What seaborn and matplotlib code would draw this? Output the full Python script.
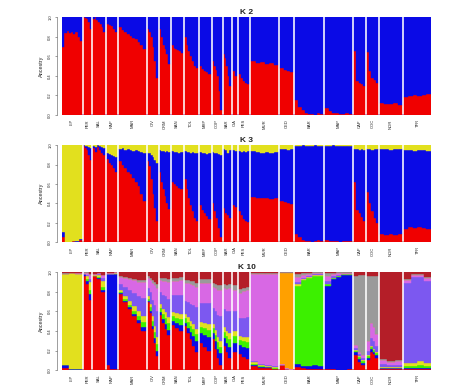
import numpy as np
import pandas as pd
import matplotlib
matplotlib.use('Agg')
import matplotlib.pyplot as plt
import seaborn as sns

# ── Populations ───────────────────────────────────────────────────────────────
pops  = ['LIP', 'PER', 'SAL', 'NAP', 'MAR', 'CIV', 'CRM', 'SAN', 'TOL', 'MRP', 'COP',
         'SAR', 'CIA', 'PES', 'MUR', 'CED', 'BAR', 'MAP', 'CAP', 'COC', 'NOR', 'TFR']
n_ind = [20, 7, 12, 10, 27, 10, 10, 11, 13, 11, 9, 7, 4, 11, 27, 13, 28, 27, 11, 11, 22, 27]
GAP = 2

# ── K 2 : red ancestry (blue = rest) ──────────────────────────────────────────
k2_red = [
    [0.70, 0.84, 0.86, 0.84, 0.85, 0.83, 0.85, 0.80, 0.76],
    [1.00, 0.99, 0.98, 0.95, 0.88],
    [0.98, 1.00, 0.97, 0.95, 0.93, 0.90, 0.85],
    [0.93, 0.92, 0.91, 0.88, 0.85],
    [0.90, 0.87, 0.85, 0.83, 0.81, 0.79, 0.78, 0.75, 0.72, 0.67],
    [0.88, 0.85, 0.80, 0.70, 0.55, 0.38],
    [0.88, 0.80, 0.72, 0.67, 0.62, 0.52],
    [0.72, 0.68, 0.67, 0.66, 0.65, 0.63],
    [0.80, 0.72, 0.65, 0.60, 0.55, 0.50, 0.48],
    [0.50, 0.47, 0.45, 0.44, 0.42],
    [0.55, 0.50, 0.46, 0.40, 0.25, 0.05],
    [0.62, 0.58, 0.50, 0.40, 0.30],
    [0.45, 0.40],
    [0.42, 0.38, 0.35, 0.33, 0.32],
    [0.55, 0.53, 0.54, 0.52, 0.53, 0.51],
    [0.48, 0.46, 0.45, 0.44],
    [0.15, 0.08, 0.05, 0.02, 0.01, 0.01, 0.00, 0.02, 0.01],
    [0.07, 0.04, 0.02, 0.02, 0.01, 0.01, 0.02, 0.01],
    [0.65, 0.35, 0.33, 0.32, 0.30],
    [0.64, 0.45, 0.38, 0.36, 0.33],
    [0.12, 0.11, 0.11, 0.12, 0.10],
    [0.18, 0.19, 0.20, 0.19, 0.20, 0.21],
]

# ── K 3 : red + yellow (blue = rest) ──────────────────────────────────────────
k3_red = [
    [0.05, 0.00, 0.00, 0.01, 0.00, 0.02],
    [0.99, 0.97, 0.95, 0.90, 0.85],
    [0.97, 0.93, 0.98, 0.95, 0.92, 0.90],
    [0.86, 0.82, 0.80, 0.76, 0.72],
    [0.84, 0.80, 0.76, 0.72, 0.70, 0.66, 0.62, 0.58, 0.50, 0.42],
    [0.84, 0.78, 0.65, 0.50, 0.35, 0.22],
    [0.72, 0.62, 0.55, 0.48, 0.40, 0.34],
    [0.62, 0.60, 0.58, 0.56, 0.55],
    [0.65, 0.55, 0.45, 0.38, 0.32, 0.25, 0.22],
    [0.38, 0.33, 0.30, 0.27, 0.24],
    [0.40, 0.32, 0.25, 0.15, 0.05],
    [0.35, 0.30, 0.28, 0.25],
    [0.38, 0.36],
    [0.32, 0.28, 0.24, 0.22, 0.21],
    [0.47, 0.46, 0.45, 0.46, 0.44, 0.45],
    [0.42, 0.41, 0.40, 0.39],
    [0.08, 0.05, 0.02, 0.01, 0.01, 0.00, 0.01, 0.02, 0.01],
    [0.02, 0.01, 0.01, 0.01, 0.00, 0.01, 0.01, 0.01],
    [0.62, 0.33, 0.30, 0.26, 0.22],
    [0.52, 0.40, 0.32, 0.25, 0.20],
    [0.08, 0.07, 0.08, 0.07, 0.08],
    [0.14, 0.16, 0.15, 0.16, 0.15, 0.14],
]
k3_yellow = [
    [0.90, 1.00, 1.00, 0.99, 0.99, 0.97],
    [0.00, 0.01, 0.01, 0.02, 0.03],
    [0.01, 0.02, 0.00, 0.01, 0.02, 0.03],
    [0.08, 0.09, 0.10, 0.11, 0.12],
    [0.04, 0.03, 0.05, 0.04, 0.05, 0.06, 0.05, 0.06, 0.07, 0.08],
    [0.08, 0.08, 0.10, 0.12, 0.15, 0.18],
    [0.05, 0.06, 0.06, 0.07, 0.06, 0.07],
    [0.06, 0.07, 0.07, 0.08, 0.07],
    [0.06, 0.07, 0.07, 0.08, 0.07, 0.08, 0.08],
    [0.07, 0.08, 0.08, 0.09, 0.08],
    [0.07, 0.08, 0.08, 0.09, 0.10],
    [0.04, 0.05, 0.08, 0.05],
    [0.05, 0.06],
    [0.06, 0.07, 0.06, 0.07, 0.06],
    [0.06, 0.07, 0.08, 0.07, 0.08, 0.07],
    [0.04, 0.04, 0.05, 0.04],
    [0.01, 0.01, 0.00, 0.01, 0.01, 0.01, 0.00, 0.01, 0.01],
    [0.01, 0.01, 0.00, 0.01, 0.01, 0.01, 0.01, 0.01],
    [0.04, 0.04, 0.05, 0.04, 0.05],
    [0.04, 0.04, 0.05, 0.04, 0.04],
    [0.04, 0.04, 0.05, 0.04, 0.04],
    [0.05, 0.05, 0.06, 0.05, 0.05, 0.06],
]

# ── K 10 (dark red = rest) ────────────────────────────────────────────────────
k10_red = [
    [0.02, 0.00, 0.00], [0.96, 0.88, 0.72], [0.96, 0.93, 0.80], [0.05, 0.01, 0.01],
    [0.78, 0.70, 0.62, 0.55, 0.48, 0.40], [0.70, 0.58, 0.42, 0.28, 0.14],
    [0.56, 0.48, 0.42, 0.36], [0.46, 0.43, 0.40], [0.45, 0.38, 0.32, 0.25, 0.18],
    [0.28, 0.24, 0.20], [0.32, 0.22, 0.12, 0.05], [0.25, 0.18, 0.12], [0.18],
    [0.16, 0.13, 0.11], [0.04, 0.02, 0.02, 0.01], [0.05, 0.01, 0.00],
    [0.03, 0.02, 0.01, 0.01, 0.01], [0.01, 0.01, 0.00, 0.00, 0.01],
    [0.15, 0.08, 0.05], [0.10, 0.18, 0.16, 0.12], [0.01, 0.01, 0.01],
    [0.01, 0.01, 0.01, 0.01],
]
k10_blue = [
    [0.03, 0.01, 0.01], [0.02, 0.03, 0.06], [0.00, 0.01, 0.02], [0.93, 0.97, 0.97],
    [0.01, 0.01, 0.02, 0.02, 0.03, 0.04], [0.01, 0.02, 0.03, 0.05, 0.06],
    [0.03, 0.04, 0.05, 0.05], [0.04, 0.05, 0.06], [0.03, 0.05, 0.07, 0.10, 0.12],
    [0.10, 0.12, 0.14], [0.06, 0.08, 0.10, 0.12], [0.08, 0.10, 0.12], [0.10],
    [0.10, 0.11, 0.12], [0.01, 0.01, 0.01, 0.00], [0.00, 0.00, 0.00],
    [0.03, 0.02, 0.03, 0.04, 0.03], [0.85, 0.92, 0.95, 0.97, 0.96],
    [0.03, 0.03, 0.02], [0.02, 0.04, 0.03, 0.03], [0.01, 0.01, 0.01],
    [0.01, 0.01, 0.01, 0.01],
]
k10_green = [
    [0.00, 0.00, 0.00], [0.00, 0.02, 0.04], [0.00, 0.01, 0.03], [0.00, 0.00, 0.00],
    [0.01, 0.02, 0.03, 0.03, 0.04, 0.05], [0.02, 0.04, 0.05, 0.06, 0.07],
    [0.04, 0.05, 0.06, 0.07], [0.05, 0.05, 0.06], [0.05, 0.06, 0.06, 0.07, 0.07],
    [0.06, 0.07, 0.07], [0.05, 0.06, 0.07, 0.07], [0.06, 0.07, 0.08], [0.07],
    [0.05, 0.06, 0.06], [0.01, 0.01, 0.00, 0.01], [0.00, 0.00, 0.00],
    [0.80, 0.88, 0.90, 0.91, 0.92], [0.02, 0.01, 0.01, 0.01, 0.01],
    [0.02, 0.02, 0.02], [0.02, 0.02, 0.02, 0.02], [0.00, 0.00, 0.00],
    [0.02, 0.02, 0.03, 0.02],
]
k10_yellow = [
    [0.93, 0.98, 0.97], [0.00, 0.03, 0.08], [0.01, 0.02, 0.06], [0.00, 0.00, 0.01],
    [0.02, 0.03, 0.04, 0.05, 0.05, 0.06], [0.03, 0.04, 0.05, 0.06, 0.07],
    [0.05, 0.05, 0.06, 0.06], [0.04, 0.05, 0.05], [0.04, 0.05, 0.05, 0.05, 0.05],
    [0.05, 0.05, 0.06], [0.04, 0.05, 0.05, 0.06], [0.05, 0.05, 0.06], [0.05],
    [0.04, 0.04, 0.05], [0.02, 0.01, 0.01, 0.01], [0.00, 0.00, 0.00],
    [0.02, 0.01, 0.01, 0.01, 0.01], [0.00, 0.00, 0.00, 0.00, 0.00],
    [0.01, 0.01, 0.01], [0.01, 0.01, 0.01, 0.01], [0.01, 0.01, 0.01],
    [0.03, 0.03, 0.04, 0.03],
]
k10_purple = [
    [0.00, 0.00, 0.00], [0.00, 0.01, 0.03], [0.00, 0.01, 0.03], [0.00, 0.00, 0.00],
    [0.06, 0.09, 0.11, 0.14, 0.16, 0.19], [0.08, 0.12, 0.17, 0.22, 0.26],
    [0.12, 0.15, 0.17, 0.19], [0.18, 0.19, 0.20], [0.14, 0.16, 0.18, 0.20, 0.22],
    [0.20, 0.21, 0.22], [0.16, 0.19, 0.22, 0.25], [0.18, 0.20, 0.22], [0.20],
    [0.18, 0.19, 0.20], [0.01, 0.01, 0.01, 0.01], [0.00, 0.00, 0.00],
    [0.02, 0.01, 0.01, 0.01, 0.01], [0.03, 0.02, 0.01, 0.00, 0.00],
    [0.02, 0.02, 0.02], [0.05, 0.08, 0.08, 0.07], [0.03, 0.02, 0.02],
    [0.82, 0.88, 0.86, 0.84],
]
k10_violet = [
    [0.00, 0.00, 0.01], [0.01, 0.02, 0.04], [0.01, 0.01, 0.03], [0.01, 0.01, 0.01],
    [0.07, 0.09, 0.11, 0.13, 0.14, 0.16], [0.10, 0.12, 0.17, 0.20, 0.24],
    [0.12, 0.14, 0.15, 0.17], [0.14, 0.14, 0.15], [0.18, 0.19, 0.20, 0.20, 0.21],
    [0.20, 0.20, 0.20], [0.22, 0.24, 0.26, 0.27], [0.22, 0.23, 0.24], [0.22],
    [0.26, 0.28, 0.28], [0.89, 0.92, 0.93, 0.94], [0.01, 0.01, 0.01],
    [0.05, 0.03, 0.02, 0.01, 0.01], [0.05, 0.02, 0.02, 0.01, 0.01],
    [0.03, 0.03, 0.03], [0.10, 0.15, 0.14, 0.12], [0.04, 0.03, 0.04],
    [0.03, 0.02, 0.02, 0.03],
]
k10_orange = [
    [0.00, 0.00, 0.00], [0.00, 0.00, 0.00], [0.00, 0.00, 0.00], [0.00, 0.00, 0.00],
    [0.00, 0.00, 0.00, 0.00, 0.00, 0.00], [0.00, 0.00, 0.00, 0.00, 0.00],
    [0.00, 0.00, 0.00, 0.00], [0.00, 0.00, 0.00], [0.00, 0.00, 0.00, 0.00, 0.00],
    [0.00, 0.00, 0.00], [0.00, 0.00, 0.00, 0.00], [0.00, 0.00, 0.00], [0.00],
    [0.00, 0.00, 0.00], [0.00, 0.00, 0.00, 0.00], [0.93, 0.97, 0.98],
    [0.00, 0.00, 0.00, 0.00, 0.00], [0.00, 0.00, 0.00, 0.00, 0.00],
    [0.00, 0.00, 0.00], [0.00, 0.00, 0.00, 0.00], [0.00, 0.00, 0.00],
    [0.00, 0.00, 0.00, 0.00],
]
k10_gray = [
    [0.01, 0.00, 0.00], [0.01, 0.01, 0.01], [0.00, 0.00, 0.00], [0.00, 0.00, 0.00],
    [0.01, 0.01, 0.01, 0.01, 0.02, 0.02], [0.02, 0.02, 0.03, 0.03, 0.04],
    [0.02, 0.03, 0.03, 0.03], [0.03, 0.03, 0.03], [0.03, 0.03, 0.03, 0.04, 0.04],
    [0.04, 0.04, 0.04], [0.04, 0.04, 0.05, 0.05], [0.04, 0.04, 0.04], [0.05],
    [0.04, 0.03, 0.03], [0.01, 0.01, 0.01, 0.01], [0.01, 0.01, 0.01],
    [0.03, 0.02, 0.01, 0.01, 0.01], [0.03, 0.01, 0.01, 0.01, 0.01],
    [0.70, 0.78, 0.82], [0.66, 0.48, 0.52, 0.59], [0.01, 0.01, 0.01],
    [0.01, 0.01, 0.01, 0.01],
]

COLORS = {
    'red': '#f00000', 'blue': '#0a0ae6', 'yellow': '#e2e01e', 'green': '#3cf000',
    'purple': '#7c58f0', 'violet': '#d868e4', 'orange': '#ffa000', 'gray': '#9a9a9a',
    'darkred': '#b41e28',
}


# ── Table builder ─────────────────────────────────────────────────────────────
def build_panel(series):
    """series: bottom->top list of (cluster, per-pop lists); one entry with
    None takes whatever remains up to 1."""
    given = [v for _, v in series if v is not None]
    rows, edges, centers = [], [], []
    start = 0.0
    for i, n in enumerate(n_ind):
        m = len(given[0][i])
        w = n / m
        edges.extend(start + w * np.arange(m + 1))
        centers.append(start + n / 2)
        rest = 1 - np.sum([np.array(v[i], dtype=float) for v in given], axis=0)
        rest = np.clip(rest, 0, None)
        for name, vals in series:
            v = rest if vals is None else np.array(vals[i], dtype=float)
            for j in range(m):
                rows.append({'x': start + w * (j + 0.5), 'q': v[j], 'cluster': name})
        start += n + GAP
    order = [s[0] for s in series]
    return pd.DataFrame(rows), list(np.unique(np.round(edges, 6))), centers, order


def draw_panel(ax, series, title):
    df, edges, centers, order = build_panel(series)
    sns.histplot(data=df, x='x', weights='q', hue='cluster',
                 hue_order=order[::-1], palette=COLORS, bins=edges,
                 multiple='stack', element='bars', fill=True, alpha=1,
                 linewidth=0.3, legend=False, ax=ax)
    # thin edge in the face colour hides the seams between bars
    for p in ax.patches:
        p.set_edgecolor(p.get_facecolor())
    # despine first: moving the spine resets the tick formatting
    sns.despine(ax=ax, bottom=True, offset=4)
    ax.spines['left'].set_linewidth(0.4)
    ax.spines['left'].set_color('#555555')
    ax.set_xlim(0, sum(n_ind) + GAP * (len(n_ind) - 1))
    ax.set_ylim(0, 1)
    ax.set_xticks(centers)
    ax.set_xticklabels(pops, rotation=90, fontsize=3)
    ax.tick_params(axis='x', length=0, pad=3)
    ax.set_yticks([0, 0.2, 0.4, 0.6, 0.8, 1.0])
    ax.set_yticklabels(['0.0', '0.2', '0.4', '0.6', '0.8', '1.0'],
                       rotation=90, va='center', fontsize=3)
    ax.tick_params(axis='y', length=1.5, width=0.4, pad=1.5, color='#555555')
    ax.set_ylabel('Ancestry', fontsize=4, labelpad=3)
    ax.set_xlabel('')
    ax.set_title(title, fontsize=6, fontweight='bold', pad=2)


# ── Figure ────────────────────────────────────────────────────────────────────
sns.set_theme(style='ticks')
plt.rcParams['font.family'] = ['Liberation Sans', 'DejaVu Sans']

fig = plt.figure(figsize=(4.74, 3.90), dpi=100)
ax1 = fig.add_axes([0.131, 0.705, 0.778, 0.251])
ax2 = fig.add_axes([0.131, 0.379, 0.778, 0.249])
ax3 = fig.add_axes([0.131, 0.051, 0.778, 0.251])

draw_panel(ax1, [('red', k2_red), ('blue', None)], 'K 2')
draw_panel(ax2, [('red', k3_red), ('blue', None), ('yellow', k3_yellow)], 'K 3')
draw_panel(ax3, [('red', k10_red), ('blue', k10_blue), ('green', k10_green),
                 ('yellow', k10_yellow), ('purple', k10_purple),
                 ('violet', k10_violet), ('orange', k10_orange),
                 ('gray', k10_gray), ('darkred', None)], 'K 10')

fig.savefig('out.png', dpi=100)
